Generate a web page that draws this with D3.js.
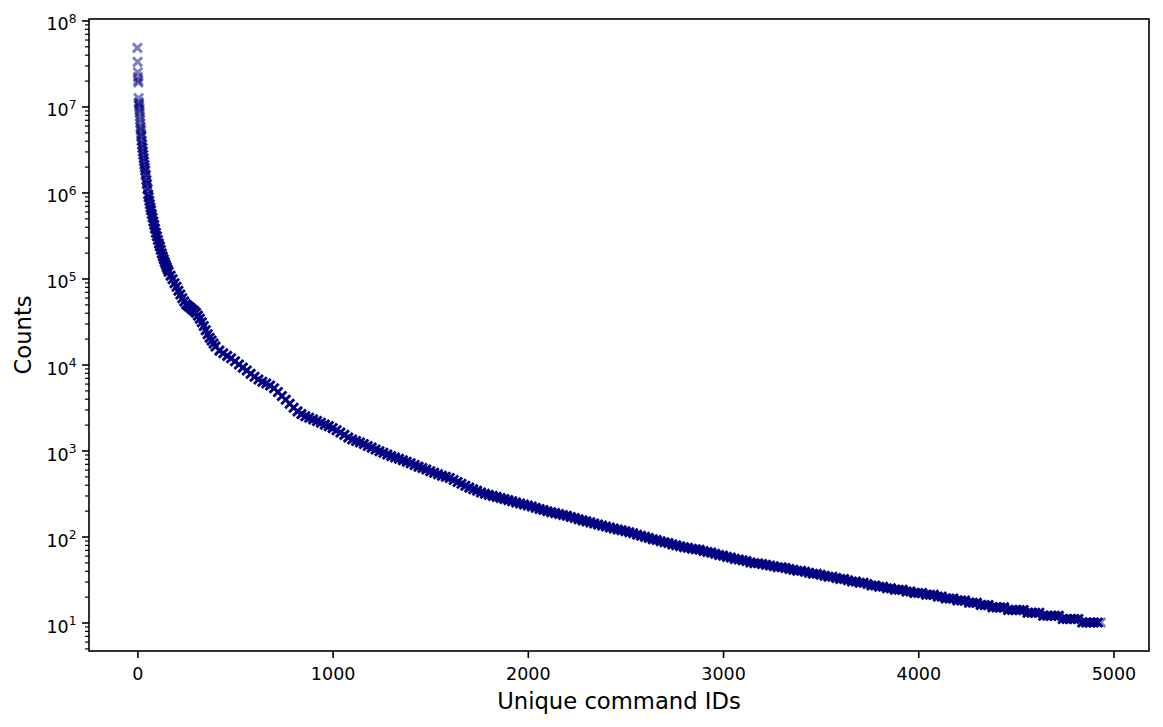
<!DOCTYPE html>
<html>
<head>
<meta charset="utf-8">
<script src="https://cdn.jsdelivr.net/npm/d3@7"></script>
<style>
  body { margin: 0; background: #fff; }
  text { font-family: "DejaVu Sans", sans-serif; fill: #000; }
</style>
</head>
<body>
<div id="chart"></div>
<script>
// Data: rank of each command ID (sorted by count) and its count
const commandIds = [
  0, 1, 2, 3, 4, 5, 6, 7, 8, 9,
  10, 11, 12, 13, 14, 15, 16, 17, 18, 19,
  20, 22, 24, 26, 28, 30, 32, 34, 36, 38,
  40, 43, 46, 49, 52, 55, 58, 61, 64, 67,
  70, 74, 78, 82, 86, 90, 95, 100, 105, 110,
  115, 120, 125, 130, 135, 140, 145, 150, 155, 160,
  170, 180, 190, 200, 210, 220, 230, 240, 250, 260,
  270, 280, 290, 300, 310, 320, 330, 340, 350, 360,
  370, 380, 390,
  400, 420, 440, 460, 480, 500, 520, 540, 560, 580,
  600, 620, 640, 660, 680, 700, 720, 740, 760, 780,
  800, 820, 840, 860, 880, 900, 920, 940, 960, 980,
  1000, 1020, 1040, 1060, 1080, 1100, 1120, 1140, 1160, 1180,
  1200, 1220, 1240, 1260, 1280, 1300, 1320, 1340, 1360, 1380,
  1400, 1420, 1440, 1460, 1480, 1500, 1520, 1540, 1560, 1580,
  1600, 1620, 1640, 1660, 1680, 1700, 1720, 1740, 1760, 1780,
  1800, 1820, 1840, 1860, 1880, 1900, 1920, 1940, 1960, 1980,
  2000, 2020, 2040, 2060, 2080, 2100, 2120, 2140, 2160, 2180,
  2200, 2220, 2240, 2260, 2280, 2300, 2320, 2340, 2360, 2380,
  2400, 2420, 2440, 2460, 2480, 2500, 2520, 2540, 2560, 2580,
  2600, 2620, 2640, 2660, 2680, 2700, 2720, 2740, 2760, 2780,
  2800, 2820, 2840, 2860, 2880, 2900, 2920, 2940, 2960, 2980,
  3000, 3020, 3040, 3060, 3080, 3100, 3120, 3140, 3160, 3180,
  3200, 3220, 3240, 3260, 3280, 3300, 3320, 3340, 3360, 3380,
  3400, 3420, 3440, 3460, 3480, 3500, 3520, 3540, 3560, 3580,
  3600, 3620, 3640, 3660, 3680, 3700, 3720, 3740, 3760, 3780,
  3800, 3820, 3840, 3860, 3880, 3900, 3920, 3940, 3960, 3980,
  4000, 4020, 4040, 4060, 4080, 4100, 4120, 4140, 4160, 4180,
  4200, 4220, 4240, 4260, 4280, 4300, 4320, 4340, 4360, 4380,
  4400, 4420, 4440, 4460, 4480, 4500, 4520, 4540, 4560, 4580,
  4600, 4620, 4640, 4660, 4680, 4700, 4720, 4740, 4760, 4780,
  4800, 4820, 4840, 4860, 4880, 4900, 4920, 4935
]

const counts = [
  48e6, 33e6, 25e6, 22e6, 20e6, 19e6, 12.5e6, 11.2e6, 10.8e6, 10.2e6,
  9.6e6, 9.0e6, 8.4e6, 7.6e6, 7.0e6, 6.4e6, 5.8e6, 5.5e6, 5.2e6, 4.8e6,
  4.5e6, 4.0e6, 3.6e6, 3.3e6, 3.0e6, 2.75e6, 2.5e6, 2.3e6, 2.1e6, 1.95e6,
  1.8e6, 1.6e6, 1.4e6, 1.25e6, 1.1e6, 9.5e5, 8.8e5, 8.0e5, 7.3e5, 6.7e5,
  6.2e5, 5.6e5, 5.1e5, 4.6e5, 4.2e5, 3.8e5, 3.4e5, 3.1e5, 2.8e5, 2.55e5,
  2.35e5, 2.15e5, 1.95e5, 1.8e5, 1.67e5, 1.55e5, 1.45e5, 1.35e5, 1.27e5, 1.2e5,
  1.08e5, 9.8e4, 8.8e4, 8.0e4, 7.2e4, 6.5e4, 5.9e4, 5.4e4, 5.0e4, 4.8e4,
  4.6e4, 4.4e4, 4.2e4, 4.0e4, 3.7e4, 3.4e4, 3.1e4, 2.8e4, 2.5e4, 2.25e4,
  2.05e4, 1.9e4, 1.75e4,
  16200, 14500, 13500, 12600, 11800, 10900, 10000, 9200, 8500, 7800,
  7200, 6700, 6300, 6000, 5700, 5300, 4800, 4300, 3900, 3500,
  3150, 2850, 2650, 2500, 2400, 2300, 2200, 2100, 2000, 1920,
  1820, 1720, 1620, 1520, 1420, 1340, 1290, 1240, 1190, 1130,
  1080, 1030, 980, 940, 900, 860, 830, 800, 770, 740,
  710, 680, 650, 625, 600, 575, 550, 530, 510, 495,
  480, 455, 430, 410, 390, 370, 355, 340, 325, 315,
  305, 297, 289, 281, 273, 265, 257, 249, 242, 236,
  230, 223, 216, 209, 203, 197, 192, 187, 183, 178,
  174, 169, 164, 159, 154, 150, 146, 142, 138, 134,
  131, 127, 124, 121, 118, 115, 112, 109, 105, 102,
  99, 96, 93, 91, 88, 86, 84, 81, 79, 77,
  75, 74, 72, 71, 70, 68, 66, 65, 63, 61,
  60, 58, 57, 55, 54, 53, 52, 50, 49, 49,
  48, 47, 46, 45, 44, 44, 43, 42, 41, 40,
  40, 39, 38, 37, 37, 36, 35, 34, 34, 33,
  32, 32, 31, 30, 30, 29, 29, 28, 27, 27,
  26, 26, 25, 25, 24, 24, 24, 23, 23, 22,
  22, 22, 21, 21, 21, 20, 20, 19, 19, 19,
  18, 18, 18, 17, 17, 17, 16, 16, 16, 15,
  15, 15, 15, 14, 14, 14, 14, 14, 13, 13,
  13, 13, 12, 12, 12, 12, 12, 11, 11, 11,
  11, 11, 10, 10, 10, 10, 10, 10
]

const xTicks = [0, 1000, 2000, 3000, 4000, 5000]
const yDecades = [1, 2, 3, 4, 5, 6, 7, 8]

function draw() {
  // each sample stands for the run of IDs up to the next sample
  const dataset = commandIds.map((id, i) => ({
    id,
    count: counts[i],
    run: i < commandIds.length - 1 ? commandIds[i + 1] - id : 1
  }))
  const xAccessor = d => d.id
  const yAccessor = d => d.count
  const alpha = 0.5
  // stacked alpha of `run` overlapping markers
  const opacityAccessor = d => 1 - Math.pow(1 - alpha, d.run)

  // Dimensions
  let dimensions = {
    width: 1163,
    height: 727,
    margins: { top: 19, right: 14, bottom: 76, left: 89 }
  }
  dimensions.ctrWidth = dimensions.width - dimensions.margins.left - dimensions.margins.right
  dimensions.ctrHeight = dimensions.height - dimensions.margins.top - dimensions.margins.bottom

  const svg = d3.select('#chart')
    .append('svg')
    .attr('width', dimensions.width)
    .attr('height', dimensions.height)

  svg.append('rect')
    .attr('width', dimensions.width)
    .attr('height', dimensions.height)
    .attr('fill', '#fff')

  const ctr = svg.append('g')
    .attr('transform', `translate(${dimensions.margins.left}, ${dimensions.margins.top})`)

  // Scales (matplotlib-like padding, log padding on y)
  const xScale = d3.scaleLinear()
    .domain([-248, 5182])
    .range([0, dimensions.ctrWidth])

  const yScale = d3.scaleLog()
    .domain([Math.pow(10, 0.669), Math.pow(10, 8.017)])
    .range([dimensions.ctrHeight, 0])

  // Points: 'x' markers
  const r = 4.5
  ctr.append('g')
    .selectAll('path')
    .data(dataset)
    .join('path')
    .attr('transform', d => `translate(${xScale(xAccessor(d))}, ${yScale(yAccessor(d))})`)
    .attr('d', `M${-r},${-r}L${r},${r}M${-r},${r}L${r},${-r}`)
    .attr('fill', 'none')
    .attr('stroke', '#000080')
    .attr('stroke-opacity', opacityAccessor)
    .attr('stroke-width', 2.9)

  // X axis
  const xAxis = d3.axisBottom(xScale)
    .tickValues(xTicks)
    .tickSize(7)
    .tickFormat(d3.format('d'))

  const xAxisGroup = ctr.append('g')
    .attr('transform', `translate(0, ${dimensions.ctrHeight})`)
    .call(xAxis)
  xAxisGroup.select('.domain').remove()
  xAxisGroup.selectAll('.tick line').attr('stroke-width', 1.6)
  xAxisGroup.selectAll('.tick text')
    .attr('y', 29)
    .attr('dy', 0)
    .style('font-size', '17.5px')
    .style('font-family', '"DejaVu Sans", sans-serif')

  // Y axis, major decades
  const yAxis = d3.axisLeft(yScale)
    .tickValues(yDecades.map(e => Math.pow(10, e)))
    .tickSize(7)
    .tickFormat('')

  const yAxisGroup = ctr.append('g').call(yAxis)
  yAxisGroup.select('.domain').remove()
  yAxisGroup.selectAll('.tick line').attr('stroke-width', 1.6)
  yAxisGroup.selectAll('.tick text')
    .attr('x', -12.5)
    .attr('y', 9.5)
    .attr('dy', 0)
    .style('font-size', '17.5px')
    .style('font-family', '"DejaVu Sans", sans-serif')
    .each(function(d) {
      const t = d3.select(this).text('10')
      t.append('tspan')
        .attr('dy', -7.8)
        .style('font-size', '12.3px')
        .text(Math.round(Math.log10(d)))
    })

  // Y axis, minor ticks
  const minorTicks = []
  for (let e = 0; e <= 8; e++) {
    for (let k = 2; k <= 9; k++) {
      const v = k * Math.pow(10, e)
      if (v >= yScale.domain()[0] && v <= yScale.domain()[1]) minorTicks.push(v)
    }
  }
  const yMinor = ctr.append('g')
    .call(d3.axisLeft(yScale).tickValues(minorTicks).tickSize(4).tickFormat(''))
  yMinor.select('.domain').remove()
  yMinor.selectAll('.tick line').attr('stroke-width', 1.2)

  // Frame
  ctr.append('rect')
    .attr('width', dimensions.ctrWidth)
    .attr('height', dimensions.ctrHeight)
    .attr('fill', 'none')
    .attr('stroke', '#000')
    .attr('stroke-width', 1.6)

  // Labels
  svg.append('text')
    .attr('x', dimensions.margins.left + dimensions.ctrWidth / 2)
    .attr('y', 709)
    .style('text-anchor', 'middle')
    .style('font-size', '22.7px')
    .text('Unique command IDs')

  svg.append('text')
    .attr('transform', `translate(31, ${dimensions.margins.top + dimensions.ctrHeight / 2}) rotate(-90)`)
    .style('text-anchor', 'middle')
    .style('font-size', '22.7px')
    .text('Counts')
}

draw()
</script>
</body>
</html>
